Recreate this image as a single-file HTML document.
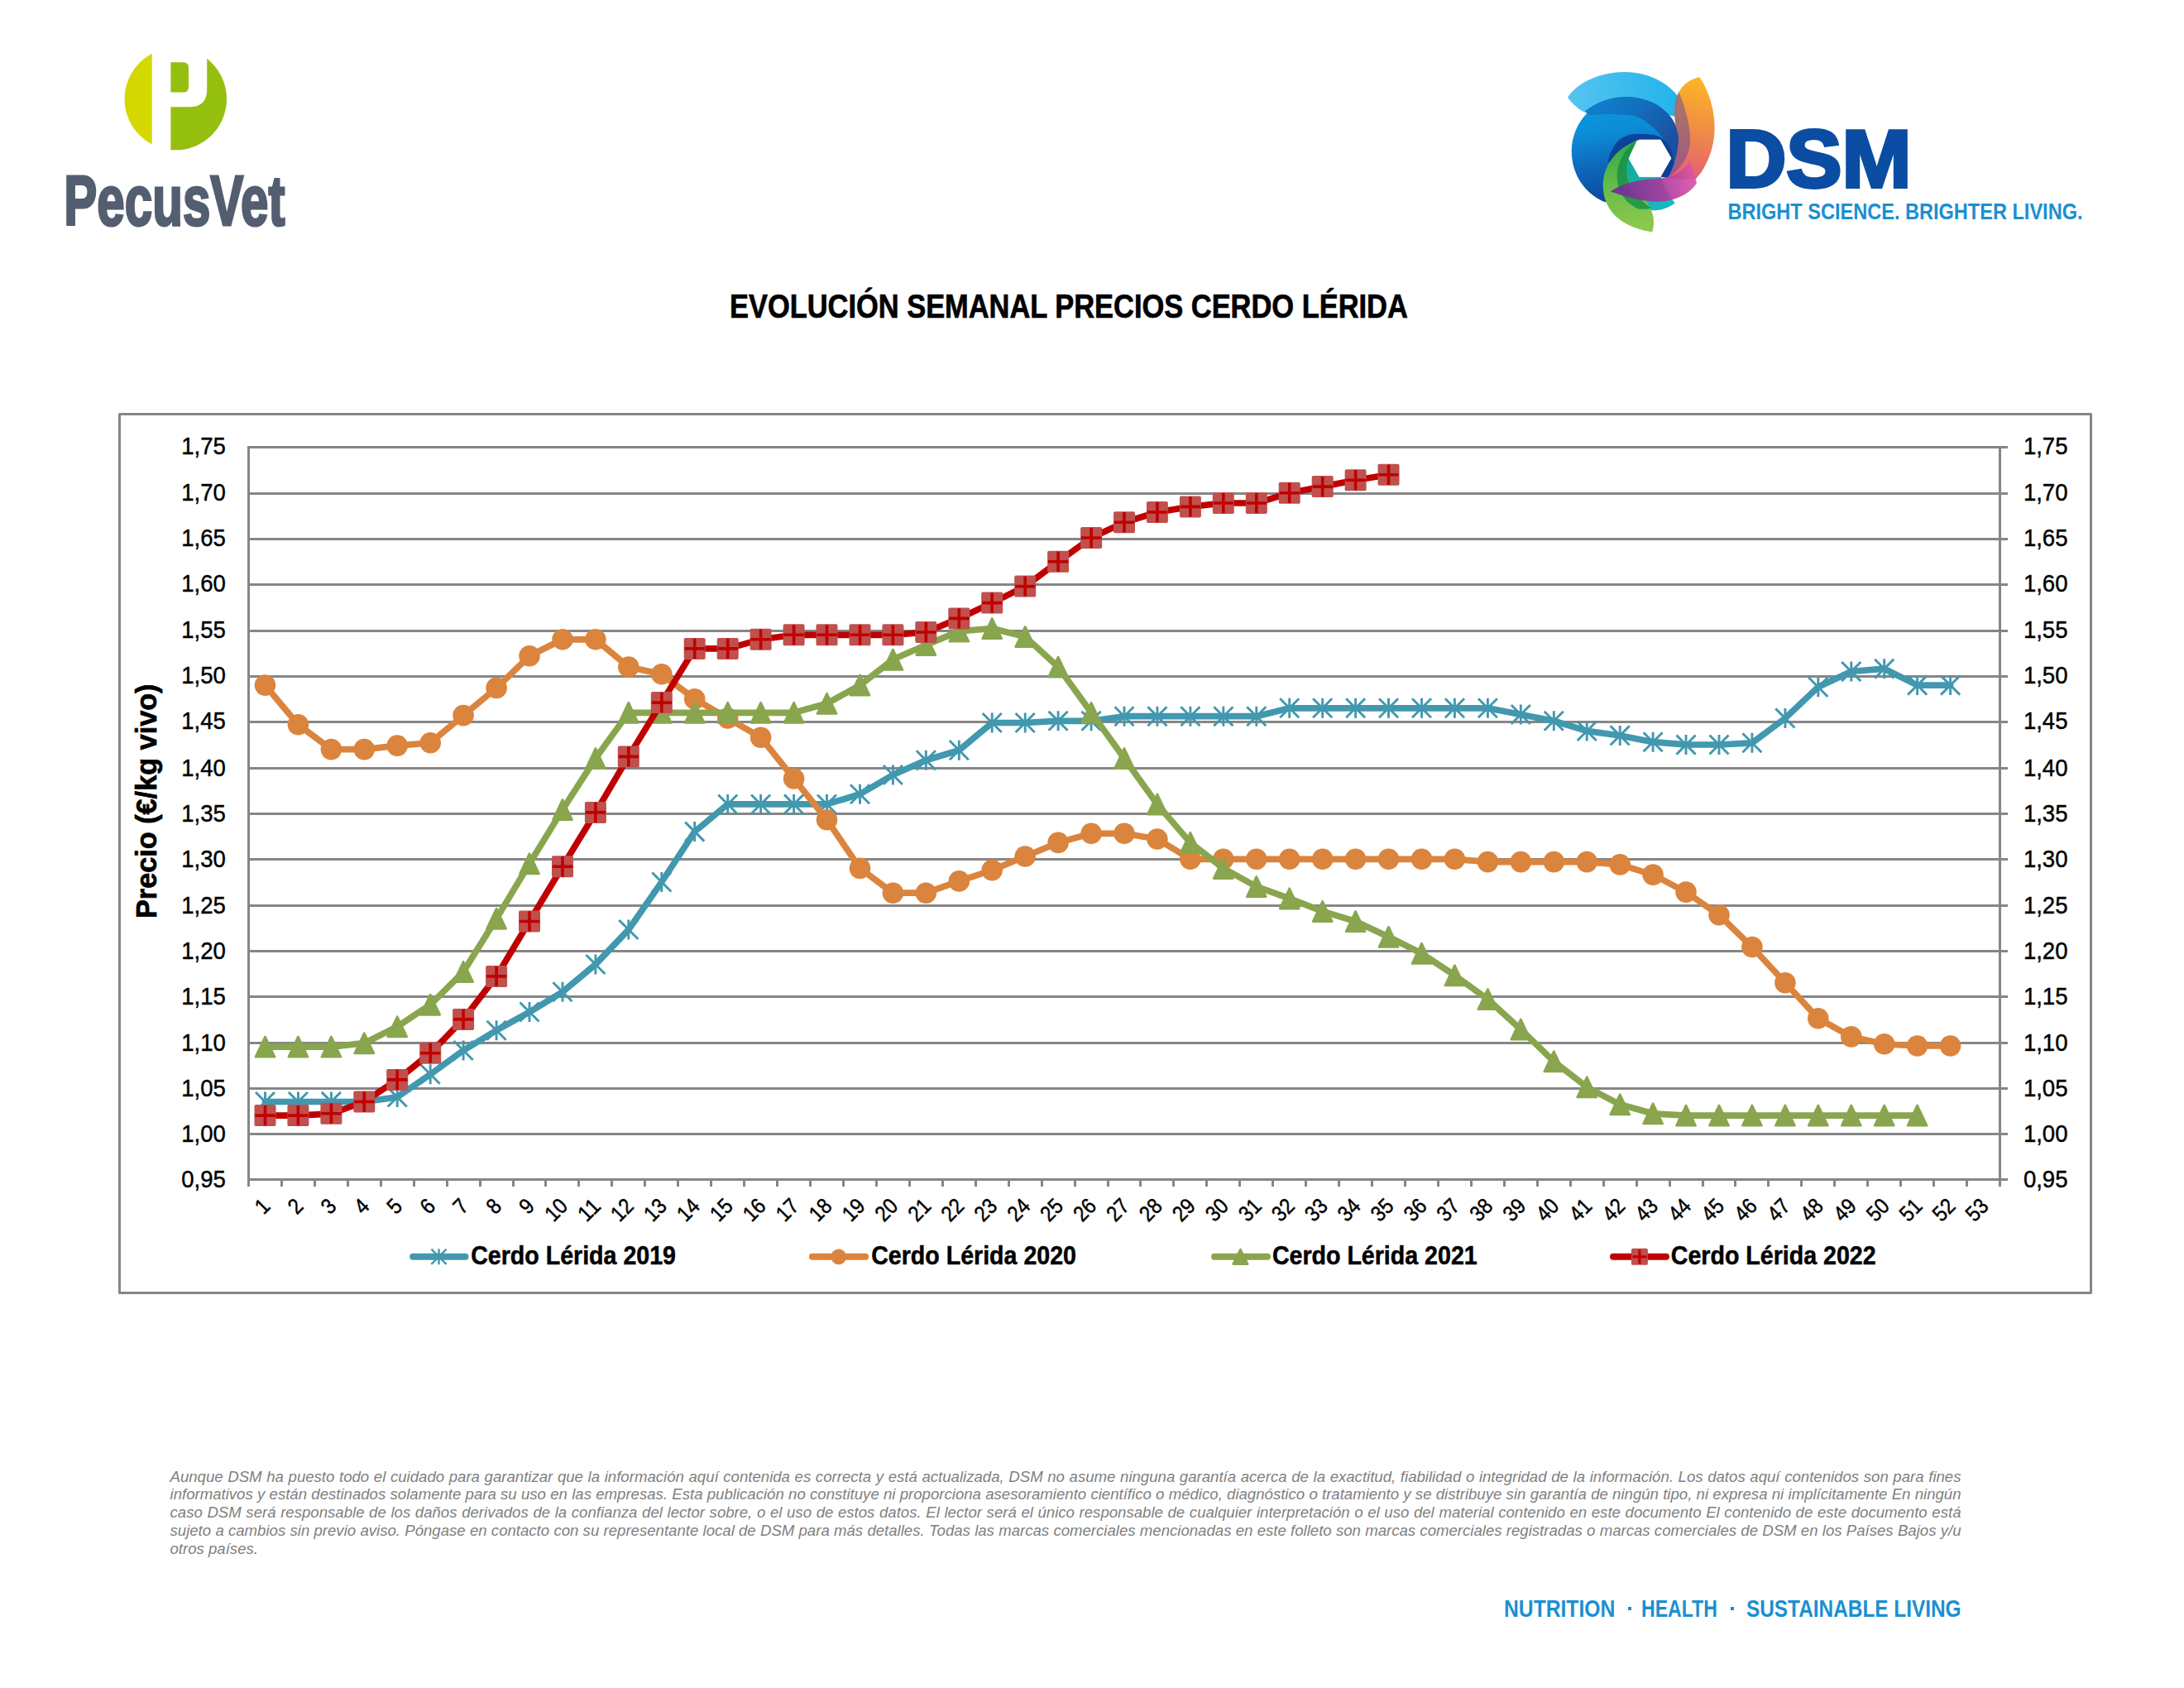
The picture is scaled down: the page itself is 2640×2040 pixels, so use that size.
<!DOCTYPE html>
<html lang="es">
<head>
<meta charset="utf-8">
<title>Evolución semanal precios cerdo Lérida</title>
<style>
html,body{margin:0;padding:0;background:#fff;}
body{width:2640px;height:2040px;position:relative;overflow:hidden;font-family:"Liberation Sans",sans-serif;}
svg{position:absolute;left:0;top:0;}
.title{position:absolute;left:882.2px;top:345.5px;width:820px;height:48px;line-height:48px;font-weight:bold;font-size:41px;color:#000;white-space:nowrap;-webkit-text-stroke:0.7px #000;}
.title span{display:inline-block;transform-origin:0 50%;transform:scaleX(0.8395);}
.disc{position:absolute;left:205.5px;top:1773.6px;width:2165px;color:#7f7f7f;font-style:italic;font-size:18.6px;line-height:21.87px;}
.dl{white-space:nowrap;text-align:justify;text-align-last:justify;height:21.87px;}
.dl.last{text-align:left;text-align-last:left;}
.foot{position:absolute;left:0;top:1926.5px;width:2640px;height:34px;line-height:34px;font-size:29px;font-weight:bold;color:#1b8fd2;white-space:nowrap;}
.foot span{position:absolute;top:0;display:inline-block;transform-origin:0 50%;}
.foot i{position:absolute;top:15.3px;width:4.2px;height:4.2px;background:#1b8fd2;}
</style>
</head>
<body>
<svg width="2640" height="2040" viewBox="0 0 2640 2040">
<!-- PecusVet logo -->
<g>
<clipPath id="pcirc"><circle cx="212.25" cy="119.6" r="61.75"/></clipPath>
<g clip-path="url(#pcirc)">
<rect x="140" y="50" width="43.7" height="140" fill="#d5d800"/>
<path d="M206.4 50H250.2V108Q250.2 129.3 229 129.3H206.4V200H290V40H206.4Z M206.4 129.3V200H290V40H250.2V108Q250.2 129.3 229 129.3Z" fill="#95bf0f"/>
<path d="M206.4 75.3H221.5Q228 75.3 228 82V105Q228 111.6 221.5 111.6H206.4Z" fill="#95bf0f"/>
</g>
<text x="77.3" y="272" font-family="'Liberation Sans', sans-serif" font-weight="bold" font-size="86" fill="#535f70" stroke="#535f70" stroke-width="3" textLength="267.2" lengthAdjust="spacingAndGlyphs">PecusVet</text>
</g>
<!-- DSM logo -->
<defs>
<linearGradient id="gLB" x1="0" y1="0" x2="1" y2="0"><stop offset="0" stop-color="#56c4f1"/><stop offset="1" stop-color="#22b4ea"/></linearGradient>
<linearGradient id="gB" x1="0.35" y1="0.1" x2="0.5" y2="1"><stop offset="0" stop-color="#0b96df"/><stop offset="0.25" stop-color="#0c8bd6"/><stop offset="0.6" stop-color="#0d65b8"/><stop offset="1" stop-color="#0a4496"/></linearGradient>
<linearGradient id="gB2" x1="0" y1="0" x2="1" y2="0.6"><stop offset="0" stop-color="#0d84cf"/><stop offset="0.5" stop-color="#126fbd"/><stop offset="1" stop-color="#1b4fa1"/></linearGradient>
<linearGradient id="gO" x1="0.5" y1="0" x2="0.4" y2="1"><stop offset="0" stop-color="#fdb014"/><stop offset="0.5" stop-color="#ee8338"/><stop offset="1" stop-color="#e2506c"/></linearGradient>
<linearGradient id="gM" x1="0" y1="0.5" x2="1" y2="0.4"><stop offset="0" stop-color="#6a2c93"/><stop offset="0.55" stop-color="#a63a9c"/><stop offset="1" stop-color="#dd55a6"/></linearGradient>
<linearGradient id="gG" x1="0.5" y1="0" x2="0.6" y2="1"><stop offset="0" stop-color="#37a84a"/><stop offset="0.5" stop-color="#6bbd4a"/><stop offset="1" stop-color="#8fc94e"/></linearGradient>
<linearGradient id="gT" x1="0" y1="0" x2="1" y2="1"><stop offset="0" stop-color="#12a88e"/><stop offset="1" stop-color="#1ab9c9"/></linearGradient>
</defs>
<g transform="translate(1880 70) scale(0.13622)">
<!-- light blue crescent -->
<path d="M110 350C200 215 400 125 620 125C830 125 1010 230 1092 345L1062 520L600 430L250 478C190 440 140 395 110 350Z" fill="url(#gLB)"/>
<!-- big blue swirl -->
<path d="M430 1275C260 1200 145 1030 145 830C145 562 360 345 628 345C880 345 1075 500 1095 700C1105 830 1070 960 1000 1062L935 1055L1030 890L935 725L745 725C640 760 560 880 545 1000C530 1120 560 1230 600 1300Z" fill="url(#gB)"/>
<!-- outer blade -->
<path d="M259 478C350 400 480 345 628 345C880 345 1075 500 1095 700C1100 780 1085 850 1050 905C1045 860 1020 800 980 747C940 690 900 640 846 599C790 545 720 510 643 505C520 495 400 500 306 505Z" fill="url(#gB2)"/>
<!-- darker inner band -->
<path d="M468 916C490 820 530 760 576 720C630 685 690 672 744 673C810 672 870 680 913 693C980 730 1020 780 1034 835C1050 880 1050 920 1048 950C1035 990 1020 1030 1000 1062L935 1055L1030 890L935 725L745 725C640 760 560 860 545 1000Z" fill="#0a3a92" opacity="0.85"/>
<!-- teal -->
<path d="M700 770C560 850 520 1060 620 1225C710 1350 900 1405 1062 1290C1000 1200 940 1100 940 1055L745 1055L650 890Z" fill="url(#gT)"/>
<!-- hexagon hole -->
<path d="M650 890L745 725L935 725L1030 890L935 1055L745 1055Z" fill="#fff"/>
<!-- green petal -->
<path d="M722 738C560 790 440 930 425 1100C412 1300 520 1490 860 1545C905 1400 830 1280 740 1200C640 1110 600 1000 650 890C670 840 695 790 722 738Z" fill="url(#gG)"/>
<!-- darker green inner band -->
<path d="M722 738C620 800 550 920 548 1050C548 1180 620 1290 740 1340C790 1345 830 1340 850 1330C790 1290 740 1240 700 1180C630 1090 615 980 650 890Z" fill="#129049" opacity="0.8"/>
<!-- orange petal -->
<path d="M1280 170C1390 330 1440 560 1400 760C1370 900 1310 1010 1245 1075L1100 1080L1000 1062C1060 960 1090 850 1095 700C1050 560 1040 400 1110 280C1150 220 1210 185 1280 170Z" fill="url(#gO)" opacity="0.93"/>
<!-- orange overlap tint -->
<path d="M1095 300C1040 420 1050 580 1095 700C1100 800 1075 930 1000 1062C1080 1010 1150 930 1185 820C1215 700 1180 560 1150 450C1130 380 1110 340 1095 300Z" fill="#5d4a9a" opacity="0.5"/>
<!-- magenta petal -->
<path d="M490 1185C600 1110 750 1078 900 1070C1050 1060 1150 1000 1190 920C1215 980 1240 1050 1255 1110C1180 1230 1000 1295 830 1270C700 1255 580 1215 490 1185Z" fill="url(#gM)" opacity="0.92"/>
</g>

<g>
<text x="2086.5" y="225.8" font-family="'Liberation Sans', sans-serif" font-weight="bold" font-size="99" fill="#0a4da2" stroke="#0a4da2" stroke-width="4" stroke-linejoin="miter" textLength="224" lengthAdjust="spacingAndGlyphs">DSM</text>
<text x="2088.5" y="264.5" font-family="'Liberation Sans', sans-serif" font-weight="bold" font-size="28.3" fill="#1b8fd2" textLength="429" lengthAdjust="spacingAndGlyphs">BRIGHT SCIENCE. BRIGHTER LIVING.</text>
</g>

<rect x="144.5" y="500.5" width="2383" height="1062" fill="#fff" stroke="#868686" stroke-width="3" stroke-linejoin="round"/>
<path d="M300.5 1425.5H2427M300.5 1370.5H2427M300.5 1315.5H2427M300.5 1260.5H2427M300.5 1204.5H2427M300.5 1149.5H2427M300.5 1094.5H2427M300.5 1038.5H2427M300.5 983.5H2427M300.5 928.5H2427M300.5 872.5H2427M300.5 817.5H2427M300.5 762.5H2427M300.5 706.5H2427M300.5 651.5H2427M300.5 596.5H2427M300.5 540.5H2427M300.5 539V1434M2417.5 539V1434M340.5 1425.5V1434M380.5 1425.5V1434M420.5 1425.5V1434M460.5 1425.5V1434M500.5 1425.5V1434M540.5 1425.5V1434M580.5 1425.5V1434M620.5 1425.5V1434M659.5 1425.5V1434M699.5 1425.5V1434M739.5 1425.5V1434M779.5 1425.5V1434M819.5 1425.5V1434M859.5 1425.5V1434M899.5 1425.5V1434M939.5 1425.5V1434M979.5 1425.5V1434M1019.5 1425.5V1434M1059.5 1425.5V1434M1099.5 1425.5V1434M1139.5 1425.5V1434M1179.5 1425.5V1434M1219.5 1425.5V1434M1259.5 1425.5V1434M1299.5 1425.5V1434M1339.5 1425.5V1434M1378.5 1425.5V1434M1418.5 1425.5V1434M1458.5 1425.5V1434M1498.5 1425.5V1434M1538.5 1425.5V1434M1578.5 1425.5V1434M1618.5 1425.5V1434M1658.5 1425.5V1434M1698.5 1425.5V1434M1738.5 1425.5V1434M1778.5 1425.5V1434M1818.5 1425.5V1434M1858.5 1425.5V1434M1898.5 1425.5V1434M1938.5 1425.5V1434M1978.5 1425.5V1434M2018.5 1425.5V1434M2058.5 1425.5V1434M2097.5 1425.5V1434M2137.5 1425.5V1434M2177.5 1425.5V1434M2217.5 1425.5V1434M2257.5 1425.5V1434M2297.5 1425.5V1434M2337.5 1425.5V1434M2377.5 1425.5V1434" stroke="#868686" stroke-width="3" fill="none"/>
<polyline points="320.5,1331.5 360.4,1331.5 400.4,1331.5 440.3,1331.5 480.2,1325.9 520.2,1298.3 560.1,1269.5 600.1,1245.2 640,1223.1 680,1198.7 719.9,1165.5 759.8,1123.5 799.8,1066 839.7,1005.1 879.7,971.9 919.6,971.9 959.6,971.9 999.5,971.9 1039.5,959.8 1079.4,936.5 1119.3,918.8 1159.3,906.7 1199.2,873.5 1239.2,873.5 1279.1,871.3 1319.1,871.3 1359,865.7 1398.9,865.7 1438.9,865.7 1478.8,865.7 1518.8,865.7 1558.7,855.8 1598.7,855.8 1638.6,855.8 1678.5,855.8 1718.5,855.8 1758.4,855.8 1798.4,855.8 1838.3,863.5 1878.3,871.3 1918.2,883.4 1958.2,889 1998.1,896.7 2038,900 2078,900 2117.9,897.8 2157.9,868 2197.8,830.3 2237.8,811.5 2277.7,808.2 2317.6,828.1 2357.6,828.1" fill="none" stroke="#4198AF" stroke-width="7.7" stroke-linejoin="round" stroke-linecap="round"/>
<path d="M320.5 1319.5V1343.5M309 1319.9L332 1343M332 1319.9L309 1343" stroke="#4198AF" stroke-width="2.9" fill="none"/><path d="M360.4 1319.5V1343.5M348.9 1319.9L371.9 1343M371.9 1319.9L348.9 1343" stroke="#4198AF" stroke-width="2.9" fill="none"/><path d="M400.4 1319.5V1343.5M388.8 1319.9L411.9 1343M411.9 1319.9L388.8 1343" stroke="#4198AF" stroke-width="2.9" fill="none"/><path d="M440.3 1319.5V1343.5M428.8 1319.9L451.8 1343M451.8 1319.9L428.8 1343" stroke="#4198AF" stroke-width="2.9" fill="none"/><path d="M480.2 1313.9V1337.9M468.7 1314.4L491.8 1337.5M491.8 1314.4L468.7 1337.5" stroke="#4198AF" stroke-width="2.9" fill="none"/><path d="M520.2 1286.3V1310.3M508.7 1286.8L531.7 1309.8M531.7 1286.8L508.7 1309.8" stroke="#4198AF" stroke-width="2.9" fill="none"/><path d="M560.1 1257.5V1281.5M548.6 1258L571.7 1281M571.7 1258L548.6 1281" stroke="#4198AF" stroke-width="2.9" fill="none"/><path d="M600.1 1233.2V1257.2M588.6 1233.7L611.6 1256.7M611.6 1233.7L588.6 1256.7" stroke="#4198AF" stroke-width="2.9" fill="none"/><path d="M640 1211.1V1235.1M628.5 1211.5L651.5 1234.6M651.5 1211.5L628.5 1234.6" stroke="#4198AF" stroke-width="2.9" fill="none"/><path d="M680 1186.7V1210.7M668.4 1187.2L691.5 1210.2M691.5 1187.2L668.4 1210.2" stroke="#4198AF" stroke-width="2.9" fill="none"/><path d="M719.9 1153.5V1177.5M708.4 1154L731.4 1177.1M731.4 1154L708.4 1177.1" stroke="#4198AF" stroke-width="2.9" fill="none"/><path d="M759.8 1111.5V1135.5M748.3 1112L771.4 1135M771.4 1112L748.3 1135" stroke="#4198AF" stroke-width="2.9" fill="none"/><path d="M799.8 1054V1078M788.3 1054.4L811.3 1077.5M811.3 1054.4L788.3 1077.5" stroke="#4198AF" stroke-width="2.9" fill="none"/><path d="M839.7 993.1V1017.1M828.2 993.6L851.3 1016.6M851.3 993.6L828.2 1016.6" stroke="#4198AF" stroke-width="2.9" fill="none"/><path d="M879.7 959.9V983.9M868.2 960.4L891.2 983.5M891.2 960.4L868.2 983.5" stroke="#4198AF" stroke-width="2.9" fill="none"/><path d="M919.6 959.9V983.9M908.1 960.4L931.1 983.5M931.1 960.4L908.1 983.5" stroke="#4198AF" stroke-width="2.9" fill="none"/><path d="M959.6 959.9V983.9M948 960.4L971.1 983.5M971.1 960.4L948 983.5" stroke="#4198AF" stroke-width="2.9" fill="none"/><path d="M999.5 959.9V983.9M988 960.4L1011 983.5M1011 960.4L988 983.5" stroke="#4198AF" stroke-width="2.9" fill="none"/><path d="M1039.5 947.8V971.8M1027.9 948.2L1051 971.3M1051 948.2L1027.9 971.3" stroke="#4198AF" stroke-width="2.9" fill="none"/><path d="M1079.4 924.5V948.5M1067.9 925L1090.9 948.1M1090.9 925L1067.9 948.1" stroke="#4198AF" stroke-width="2.9" fill="none"/><path d="M1119.3 906.8V930.8M1107.8 907.3L1130.9 930.4M1130.9 907.3L1107.8 930.4" stroke="#4198AF" stroke-width="2.9" fill="none"/><path d="M1159.3 894.7V918.7M1147.8 895.1L1170.8 918.2M1170.8 895.1L1147.8 918.2" stroke="#4198AF" stroke-width="2.9" fill="none"/><path d="M1199.2 861.5V885.5M1187.7 862L1210.7 885M1210.7 862L1187.7 885" stroke="#4198AF" stroke-width="2.9" fill="none"/><path d="M1239.2 861.5V885.5M1227.6 862L1250.7 885M1250.7 862L1227.6 885" stroke="#4198AF" stroke-width="2.9" fill="none"/><path d="M1279.1 859.3V883.3M1267.6 859.7L1290.6 882.8M1290.6 859.7L1267.6 882.8" stroke="#4198AF" stroke-width="2.9" fill="none"/><path d="M1319.1 859.3V883.3M1307.5 859.7L1330.6 882.8M1330.6 859.7L1307.5 882.8" stroke="#4198AF" stroke-width="2.9" fill="none"/><path d="M1359 853.7V877.7M1347.5 854.2L1370.5 877.3M1370.5 854.2L1347.5 877.3" stroke="#4198AF" stroke-width="2.9" fill="none"/><path d="M1398.9 853.7V877.7M1387.4 854.2L1410.5 877.3M1410.5 854.2L1387.4 877.3" stroke="#4198AF" stroke-width="2.9" fill="none"/><path d="M1438.9 853.7V877.7M1427.4 854.2L1450.4 877.3M1450.4 854.2L1427.4 877.3" stroke="#4198AF" stroke-width="2.9" fill="none"/><path d="M1478.8 853.7V877.7M1467.3 854.2L1490.4 877.3M1490.4 854.2L1467.3 877.3" stroke="#4198AF" stroke-width="2.9" fill="none"/><path d="M1518.8 853.7V877.7M1507.3 854.2L1530.3 877.3M1530.3 854.2L1507.3 877.3" stroke="#4198AF" stroke-width="2.9" fill="none"/><path d="M1558.7 843.8V867.8M1547.2 844.3L1570.2 867.3M1570.2 844.3L1547.2 867.3" stroke="#4198AF" stroke-width="2.9" fill="none"/><path d="M1598.7 843.8V867.8M1587.1 844.3L1610.2 867.3M1610.2 844.3L1587.1 867.3" stroke="#4198AF" stroke-width="2.9" fill="none"/><path d="M1638.6 843.8V867.8M1627.1 844.3L1650.1 867.3M1650.1 844.3L1627.1 867.3" stroke="#4198AF" stroke-width="2.9" fill="none"/><path d="M1678.5 843.8V867.8M1667 844.3L1690.1 867.3M1690.1 844.3L1667 867.3" stroke="#4198AF" stroke-width="2.9" fill="none"/><path d="M1718.5 843.8V867.8M1707 844.3L1730 867.3M1730 844.3L1707 867.3" stroke="#4198AF" stroke-width="2.9" fill="none"/><path d="M1758.4 843.8V867.8M1746.9 844.3L1770 867.3M1770 844.3L1746.9 867.3" stroke="#4198AF" stroke-width="2.9" fill="none"/><path d="M1798.4 843.8V867.8M1786.9 844.3L1809.9 867.3M1809.9 844.3L1786.9 867.3" stroke="#4198AF" stroke-width="2.9" fill="none"/><path d="M1838.3 851.5V875.5M1826.8 852L1849.8 875M1849.8 852L1826.8 875" stroke="#4198AF" stroke-width="2.9" fill="none"/><path d="M1878.3 859.3V883.3M1866.7 859.7L1889.8 882.8M1889.8 859.7L1866.7 882.8" stroke="#4198AF" stroke-width="2.9" fill="none"/><path d="M1918.2 871.4V895.4M1906.7 871.9L1929.7 895M1929.7 871.9L1906.7 895" stroke="#4198AF" stroke-width="2.9" fill="none"/><path d="M1958.2 877V901M1946.6 877.4L1969.7 900.5M1969.7 877.4L1946.6 900.5" stroke="#4198AF" stroke-width="2.9" fill="none"/><path d="M1998.1 884.7V908.7M1986.6 885.2L2009.6 908.2M2009.6 885.2L1986.6 908.2" stroke="#4198AF" stroke-width="2.9" fill="none"/><path d="M2038 888V912M2026.5 888.5L2049.6 911.6M2049.6 888.5L2026.5 911.6" stroke="#4198AF" stroke-width="2.9" fill="none"/><path d="M2078 888V912M2066.5 888.5L2089.5 911.6M2089.5 888.5L2066.5 911.6" stroke="#4198AF" stroke-width="2.9" fill="none"/><path d="M2117.9 885.8V909.8M2106.4 886.3L2129.4 909.3M2129.4 886.3L2106.4 909.3" stroke="#4198AF" stroke-width="2.9" fill="none"/><path d="M2157.9 856V880M2146.3 856.4L2169.4 879.5M2169.4 856.4L2146.3 879.5" stroke="#4198AF" stroke-width="2.9" fill="none"/><path d="M2197.8 818.3V842.3M2186.3 818.8L2209.3 841.9M2209.3 818.8L2186.3 841.9" stroke="#4198AF" stroke-width="2.9" fill="none"/><path d="M2237.8 799.5V823.5M2226.2 800L2249.3 823.1M2249.3 800L2226.2 823.1" stroke="#4198AF" stroke-width="2.9" fill="none"/><path d="M2277.7 796.2V820.2M2266.2 796.7L2289.2 819.7M2289.2 796.7L2266.2 819.7" stroke="#4198AF" stroke-width="2.9" fill="none"/><path d="M2317.6 816.1V840.1M2306.1 816.6L2329.2 839.6M2329.2 816.6L2306.1 839.6" stroke="#4198AF" stroke-width="2.9" fill="none"/><path d="M2357.6 816.1V840.1M2346.1 816.6L2369.1 839.6M2369.1 816.6L2346.1 839.6" stroke="#4198AF" stroke-width="2.9" fill="none"/>
<polyline points="320.5,828.1 360.4,875.7 400.4,905.6 440.3,905.6 480.2,901.1 520.2,897.8 560.1,864.6 600.1,831.4 640,792.7 680,772.8 719.9,772.8 759.8,806 799.8,814.8 839.7,844.7 879.7,868 919.6,891.2 959.6,941 999.5,990.7 1039.5,1049.4 1079.4,1079.2 1119.3,1079.2 1159.3,1064.9 1199.2,1051.6 1239.2,1035 1279.1,1018.4 1319.1,1007.3 1359,1007.3 1398.9,1014 1438.9,1038.3 1478.8,1038.3 1518.8,1038.3 1558.7,1038.3 1598.7,1038.3 1638.6,1038.3 1678.5,1038.3 1718.5,1038.3 1758.4,1038.3 1798.4,1041.6 1838.3,1041.6 1878.3,1041.6 1918.2,1041.6 1958.2,1044.9 1998.1,1057.1 2038,1078.1 2078,1105.8 2117.9,1144.5 2157.9,1187.7 2197.8,1230.8 2237.8,1252.9 2277.7,1261.8 2317.6,1264 2357.6,1264" fill="none" stroke="#DB843D" stroke-width="7.7" stroke-linejoin="round" stroke-linecap="round"/>
<circle cx="320.5" cy="828.1" r="12.8" fill="#DB843D"/><circle cx="360.4" cy="875.7" r="12.8" fill="#DB843D"/><circle cx="400.4" cy="905.6" r="12.8" fill="#DB843D"/><circle cx="440.3" cy="905.6" r="12.8" fill="#DB843D"/><circle cx="480.2" cy="901.1" r="12.8" fill="#DB843D"/><circle cx="520.2" cy="897.8" r="12.8" fill="#DB843D"/><circle cx="560.1" cy="864.6" r="12.8" fill="#DB843D"/><circle cx="600.1" cy="831.4" r="12.8" fill="#DB843D"/><circle cx="640" cy="792.7" r="12.8" fill="#DB843D"/><circle cx="680" cy="772.8" r="12.8" fill="#DB843D"/><circle cx="719.9" cy="772.8" r="12.8" fill="#DB843D"/><circle cx="759.8" cy="806" r="12.8" fill="#DB843D"/><circle cx="799.8" cy="814.8" r="12.8" fill="#DB843D"/><circle cx="839.7" cy="844.7" r="12.8" fill="#DB843D"/><circle cx="879.7" cy="868" r="12.8" fill="#DB843D"/><circle cx="919.6" cy="891.2" r="12.8" fill="#DB843D"/><circle cx="959.6" cy="941" r="12.8" fill="#DB843D"/><circle cx="999.5" cy="990.7" r="12.8" fill="#DB843D"/><circle cx="1039.5" cy="1049.4" r="12.8" fill="#DB843D"/><circle cx="1079.4" cy="1079.2" r="12.8" fill="#DB843D"/><circle cx="1119.3" cy="1079.2" r="12.8" fill="#DB843D"/><circle cx="1159.3" cy="1064.9" r="12.8" fill="#DB843D"/><circle cx="1199.2" cy="1051.6" r="12.8" fill="#DB843D"/><circle cx="1239.2" cy="1035" r="12.8" fill="#DB843D"/><circle cx="1279.1" cy="1018.4" r="12.8" fill="#DB843D"/><circle cx="1319.1" cy="1007.3" r="12.8" fill="#DB843D"/><circle cx="1359" cy="1007.3" r="12.8" fill="#DB843D"/><circle cx="1398.9" cy="1014" r="12.8" fill="#DB843D"/><circle cx="1438.9" cy="1038.3" r="12.8" fill="#DB843D"/><circle cx="1478.8" cy="1038.3" r="12.8" fill="#DB843D"/><circle cx="1518.8" cy="1038.3" r="12.8" fill="#DB843D"/><circle cx="1558.7" cy="1038.3" r="12.8" fill="#DB843D"/><circle cx="1598.7" cy="1038.3" r="12.8" fill="#DB843D"/><circle cx="1638.6" cy="1038.3" r="12.8" fill="#DB843D"/><circle cx="1678.5" cy="1038.3" r="12.8" fill="#DB843D"/><circle cx="1718.5" cy="1038.3" r="12.8" fill="#DB843D"/><circle cx="1758.4" cy="1038.3" r="12.8" fill="#DB843D"/><circle cx="1798.4" cy="1041.6" r="12.8" fill="#DB843D"/><circle cx="1838.3" cy="1041.6" r="12.8" fill="#DB843D"/><circle cx="1878.3" cy="1041.6" r="12.8" fill="#DB843D"/><circle cx="1918.2" cy="1041.6" r="12.8" fill="#DB843D"/><circle cx="1958.2" cy="1044.9" r="12.8" fill="#DB843D"/><circle cx="1998.1" cy="1057.1" r="12.8" fill="#DB843D"/><circle cx="2038" cy="1078.1" r="12.8" fill="#DB843D"/><circle cx="2078" cy="1105.8" r="12.8" fill="#DB843D"/><circle cx="2117.9" cy="1144.5" r="12.8" fill="#DB843D"/><circle cx="2157.9" cy="1187.7" r="12.8" fill="#DB843D"/><circle cx="2197.8" cy="1230.8" r="12.8" fill="#DB843D"/><circle cx="2237.8" cy="1252.9" r="12.8" fill="#DB843D"/><circle cx="2277.7" cy="1261.8" r="12.8" fill="#DB843D"/><circle cx="2317.6" cy="1264" r="12.8" fill="#DB843D"/><circle cx="2357.6" cy="1264" r="12.8" fill="#DB843D"/>
<polyline points="320.5,1265.1 360.4,1265.1 400.4,1265.1 440.3,1260.7 480.2,1240.8 520.2,1214.2 560.1,1174.4 600.1,1110.2 640,1043.8 680,978.6 719.9,916.6 759.8,861.3 799.8,861.3 839.7,861.3 879.7,861.3 919.6,861.3 959.6,861.3 999.5,850.2 1039.5,828.1 1079.4,797.1 1119.3,779.4 1159.3,762.9 1199.2,759.5 1239.2,769.5 1279.1,806 1319.1,861.3 1359,916.6 1398.9,971.9 1438.9,1018.4 1478.8,1049.4 1518.8,1071.5 1558.7,1085.9 1598.7,1101.4 1638.6,1113.5 1678.5,1132.3 1718.5,1152.3 1758.4,1178.8 1798.4,1207.6 1838.3,1244.1 1878.3,1282.8 1918.2,1313.8 1958.2,1334.8 1998.1,1345.8 2038,1348.1 2078,1348.1 2117.9,1348.1 2157.9,1348.1 2197.8,1348.1 2237.8,1348.1 2277.7,1348.1 2317.6,1348.1" fill="none" stroke="#89A54E" stroke-width="7.7" stroke-linejoin="round" stroke-linecap="round"/>
<path d="M320.5 1252.9L332.1 1277.3H308.9Z" fill="#89A54E" stroke="#89A54E" stroke-width="2.6" stroke-linejoin="round"/><path d="M360.4 1252.9L372 1277.3H348.8Z" fill="#89A54E" stroke="#89A54E" stroke-width="2.6" stroke-linejoin="round"/><path d="M400.4 1252.9L412 1277.3H388.8Z" fill="#89A54E" stroke="#89A54E" stroke-width="2.6" stroke-linejoin="round"/><path d="M440.3 1248.5L451.9 1272.9H428.7Z" fill="#89A54E" stroke="#89A54E" stroke-width="2.6" stroke-linejoin="round"/><path d="M480.2 1228.6L491.8 1253H468.6Z" fill="#89A54E" stroke="#89A54E" stroke-width="2.6" stroke-linejoin="round"/><path d="M520.2 1202L531.8 1226.4H508.6Z" fill="#89A54E" stroke="#89A54E" stroke-width="2.6" stroke-linejoin="round"/><path d="M560.1 1162.2L571.7 1186.6H548.5Z" fill="#89A54E" stroke="#89A54E" stroke-width="2.6" stroke-linejoin="round"/><path d="M600.1 1098L611.7 1122.4H588.5Z" fill="#89A54E" stroke="#89A54E" stroke-width="2.6" stroke-linejoin="round"/><path d="M640 1031.6L651.6 1056H628.4Z" fill="#89A54E" stroke="#89A54E" stroke-width="2.6" stroke-linejoin="round"/><path d="M680 966.4L691.6 990.8H668.4Z" fill="#89A54E" stroke="#89A54E" stroke-width="2.6" stroke-linejoin="round"/><path d="M719.9 904.4L731.5 928.8H708.3Z" fill="#89A54E" stroke="#89A54E" stroke-width="2.6" stroke-linejoin="round"/><path d="M759.8 849.1L771.4 873.5H748.2Z" fill="#89A54E" stroke="#89A54E" stroke-width="2.6" stroke-linejoin="round"/><path d="M799.8 849.1L811.4 873.5H788.2Z" fill="#89A54E" stroke="#89A54E" stroke-width="2.6" stroke-linejoin="round"/><path d="M839.7 849.1L851.3 873.5H828.1Z" fill="#89A54E" stroke="#89A54E" stroke-width="2.6" stroke-linejoin="round"/><path d="M879.7 849.1L891.3 873.5H868.1Z" fill="#89A54E" stroke="#89A54E" stroke-width="2.6" stroke-linejoin="round"/><path d="M919.6 849.1L931.2 873.5H908Z" fill="#89A54E" stroke="#89A54E" stroke-width="2.6" stroke-linejoin="round"/><path d="M959.6 849.1L971.2 873.5H948Z" fill="#89A54E" stroke="#89A54E" stroke-width="2.6" stroke-linejoin="round"/><path d="M999.5 838L1011.1 862.5H987.9Z" fill="#89A54E" stroke="#89A54E" stroke-width="2.6" stroke-linejoin="round"/><path d="M1039.5 815.9L1051.1 840.3H1027.9Z" fill="#89A54E" stroke="#89A54E" stroke-width="2.6" stroke-linejoin="round"/><path d="M1079.4 784.9L1091 809.4H1067.8Z" fill="#89A54E" stroke="#89A54E" stroke-width="2.6" stroke-linejoin="round"/><path d="M1119.3 767.2L1130.9 791.6H1107.7Z" fill="#89A54E" stroke="#89A54E" stroke-width="2.6" stroke-linejoin="round"/><path d="M1159.3 750.7L1170.9 775.1H1147.7Z" fill="#89A54E" stroke="#89A54E" stroke-width="2.6" stroke-linejoin="round"/><path d="M1199.2 747.3L1210.8 771.7H1187.6Z" fill="#89A54E" stroke="#89A54E" stroke-width="2.6" stroke-linejoin="round"/><path d="M1239.2 757.3L1250.8 781.7H1227.6Z" fill="#89A54E" stroke="#89A54E" stroke-width="2.6" stroke-linejoin="round"/><path d="M1279.1 793.8L1290.7 818.2H1267.5Z" fill="#89A54E" stroke="#89A54E" stroke-width="2.6" stroke-linejoin="round"/><path d="M1319.1 849.1L1330.7 873.5H1307.5Z" fill="#89A54E" stroke="#89A54E" stroke-width="2.6" stroke-linejoin="round"/><path d="M1359 904.4L1370.6 928.8H1347.4Z" fill="#89A54E" stroke="#89A54E" stroke-width="2.6" stroke-linejoin="round"/><path d="M1398.9 959.7L1410.5 984.1H1387.3Z" fill="#89A54E" stroke="#89A54E" stroke-width="2.6" stroke-linejoin="round"/><path d="M1438.9 1006.2L1450.5 1030.6H1427.3Z" fill="#89A54E" stroke="#89A54E" stroke-width="2.6" stroke-linejoin="round"/><path d="M1478.8 1037.2L1490.4 1061.6H1467.2Z" fill="#89A54E" stroke="#89A54E" stroke-width="2.6" stroke-linejoin="round"/><path d="M1518.8 1059.3L1530.4 1083.7H1507.2Z" fill="#89A54E" stroke="#89A54E" stroke-width="2.6" stroke-linejoin="round"/><path d="M1558.7 1073.7L1570.3 1098.1H1547.1Z" fill="#89A54E" stroke="#89A54E" stroke-width="2.6" stroke-linejoin="round"/><path d="M1598.7 1089.2L1610.3 1113.6H1587.1Z" fill="#89A54E" stroke="#89A54E" stroke-width="2.6" stroke-linejoin="round"/><path d="M1638.6 1101.3L1650.2 1125.7H1627Z" fill="#89A54E" stroke="#89A54E" stroke-width="2.6" stroke-linejoin="round"/><path d="M1678.5 1120.1L1690.1 1144.5H1666.9Z" fill="#89A54E" stroke="#89A54E" stroke-width="2.6" stroke-linejoin="round"/><path d="M1718.5 1140.1L1730.1 1164.5H1706.9Z" fill="#89A54E" stroke="#89A54E" stroke-width="2.6" stroke-linejoin="round"/><path d="M1758.4 1166.6L1770 1191H1746.8Z" fill="#89A54E" stroke="#89A54E" stroke-width="2.6" stroke-linejoin="round"/><path d="M1798.4 1195.4L1810 1219.8H1786.8Z" fill="#89A54E" stroke="#89A54E" stroke-width="2.6" stroke-linejoin="round"/><path d="M1838.3 1231.9L1849.9 1256.3H1826.7Z" fill="#89A54E" stroke="#89A54E" stroke-width="2.6" stroke-linejoin="round"/><path d="M1878.3 1270.6L1889.9 1295H1866.7Z" fill="#89A54E" stroke="#89A54E" stroke-width="2.6" stroke-linejoin="round"/><path d="M1918.2 1301.6L1929.8 1326H1906.6Z" fill="#89A54E" stroke="#89A54E" stroke-width="2.6" stroke-linejoin="round"/><path d="M1958.2 1322.6L1969.8 1347H1946.6Z" fill="#89A54E" stroke="#89A54E" stroke-width="2.6" stroke-linejoin="round"/><path d="M1998.1 1333.6L2009.7 1358H1986.5Z" fill="#89A54E" stroke="#89A54E" stroke-width="2.6" stroke-linejoin="round"/><path d="M2038 1335.9L2049.6 1360.3H2026.4Z" fill="#89A54E" stroke="#89A54E" stroke-width="2.6" stroke-linejoin="round"/><path d="M2078 1335.9L2089.6 1360.3H2066.4Z" fill="#89A54E" stroke="#89A54E" stroke-width="2.6" stroke-linejoin="round"/><path d="M2117.9 1335.9L2129.5 1360.3H2106.3Z" fill="#89A54E" stroke="#89A54E" stroke-width="2.6" stroke-linejoin="round"/><path d="M2157.9 1335.9L2169.5 1360.3H2146.3Z" fill="#89A54E" stroke="#89A54E" stroke-width="2.6" stroke-linejoin="round"/><path d="M2197.8 1335.9L2209.4 1360.3H2186.2Z" fill="#89A54E" stroke="#89A54E" stroke-width="2.6" stroke-linejoin="round"/><path d="M2237.8 1335.9L2249.4 1360.3H2226.2Z" fill="#89A54E" stroke="#89A54E" stroke-width="2.6" stroke-linejoin="round"/><path d="M2277.7 1335.9L2289.3 1360.3H2266.1Z" fill="#89A54E" stroke="#89A54E" stroke-width="2.6" stroke-linejoin="round"/><path d="M2317.6 1335.9L2329.2 1360.3H2306Z" fill="#89A54E" stroke="#89A54E" stroke-width="2.6" stroke-linejoin="round"/>
<polyline points="320.5,1348.1 360.4,1348.1 400.4,1345.8 440.3,1331.5 480.2,1304.9 520.2,1272.8 560.1,1231.9 600.1,1179.9 640,1113.5 680,1047.2 719.9,981.9 759.8,914.4 799.8,849.1 839.7,783.9 879.7,783.9 919.6,772.8 959.6,767.3 999.5,767.3 1039.5,767.3 1079.4,767.3 1119.3,764 1159.3,747.4 1199.2,728.6 1239.2,708.6 1279.1,678.8 1319.1,650 1359,631.2 1398.9,619 1438.9,612.4 1478.8,608 1518.8,608 1558.7,595.8 1598.7,588.1 1638.6,580.3 1678.5,573.7" fill="none" stroke="#C00000" stroke-width="7.7" stroke-linejoin="round" stroke-linecap="round"/>
<rect x="308.6" y="1336.2" width="23.8" height="23.8" rx="0.8" fill="#C0504D" stroke="#C0504D" stroke-width="2.2" stroke-linejoin="round"/><path d="M308.3 1348.1H332.7M320.5 1335.9V1360.3" stroke="#C00000" stroke-width="3.6" fill="none"/><rect x="348.5" y="1336.2" width="23.8" height="23.8" rx="0.8" fill="#C0504D" stroke="#C0504D" stroke-width="2.2" stroke-linejoin="round"/><path d="M348.2 1348.1H372.6M360.4 1335.9V1360.3" stroke="#C00000" stroke-width="3.6" fill="none"/><rect x="388.5" y="1333.9" width="23.8" height="23.8" rx="0.8" fill="#C0504D" stroke="#C0504D" stroke-width="2.2" stroke-linejoin="round"/><path d="M388.2 1345.8H412.6M400.4 1333.6V1358" stroke="#C00000" stroke-width="3.6" fill="none"/><rect x="428.4" y="1319.6" width="23.8" height="23.8" rx="0.8" fill="#C0504D" stroke="#C0504D" stroke-width="2.2" stroke-linejoin="round"/><path d="M428.1 1331.5H452.5M440.3 1319.3V1343.7" stroke="#C00000" stroke-width="3.6" fill="none"/><rect x="468.3" y="1293" width="23.8" height="23.8" rx="0.8" fill="#C0504D" stroke="#C0504D" stroke-width="2.2" stroke-linejoin="round"/><path d="M468 1304.9H492.4M480.2 1292.7V1317.1" stroke="#C00000" stroke-width="3.6" fill="none"/><rect x="508.3" y="1260.9" width="23.8" height="23.8" rx="0.8" fill="#C0504D" stroke="#C0504D" stroke-width="2.2" stroke-linejoin="round"/><path d="M508 1272.8H532.4M520.2 1260.6V1285" stroke="#C00000" stroke-width="3.6" fill="none"/><rect x="548.2" y="1220" width="23.8" height="23.8" rx="0.8" fill="#C0504D" stroke="#C0504D" stroke-width="2.2" stroke-linejoin="round"/><path d="M547.9 1231.9H572.3M560.1 1219.7V1244.1" stroke="#C00000" stroke-width="3.6" fill="none"/><rect x="588.2" y="1168" width="23.8" height="23.8" rx="0.8" fill="#C0504D" stroke="#C0504D" stroke-width="2.2" stroke-linejoin="round"/><path d="M587.9 1179.9H612.3M600.1 1167.7V1192.1" stroke="#C00000" stroke-width="3.6" fill="none"/><rect x="628.1" y="1101.6" width="23.8" height="23.8" rx="0.8" fill="#C0504D" stroke="#C0504D" stroke-width="2.2" stroke-linejoin="round"/><path d="M627.8 1113.5H652.2M640 1101.3V1125.7" stroke="#C00000" stroke-width="3.6" fill="none"/><rect x="668.1" y="1035.3" width="23.8" height="23.8" rx="0.8" fill="#C0504D" stroke="#C0504D" stroke-width="2.2" stroke-linejoin="round"/><path d="M667.8 1047.2H692.2M680 1035V1059.4" stroke="#C00000" stroke-width="3.6" fill="none"/><rect x="708" y="970" width="23.8" height="23.8" rx="0.8" fill="#C0504D" stroke="#C0504D" stroke-width="2.2" stroke-linejoin="round"/><path d="M707.7 981.9H732.1M719.9 969.7V994.1" stroke="#C00000" stroke-width="3.6" fill="none"/><rect x="747.9" y="902.5" width="23.8" height="23.8" rx="0.8" fill="#C0504D" stroke="#C0504D" stroke-width="2.2" stroke-linejoin="round"/><path d="M747.6 914.4H772M759.8 902.2V926.6" stroke="#C00000" stroke-width="3.6" fill="none"/><rect x="787.9" y="837.2" width="23.8" height="23.8" rx="0.8" fill="#C0504D" stroke="#C0504D" stroke-width="2.2" stroke-linejoin="round"/><path d="M787.6 849.1H812M799.8 836.9V861.3" stroke="#C00000" stroke-width="3.6" fill="none"/><rect x="827.8" y="772" width="23.8" height="23.8" rx="0.8" fill="#C0504D" stroke="#C0504D" stroke-width="2.2" stroke-linejoin="round"/><path d="M827.5 783.9H851.9M839.7 771.7V796.1" stroke="#C00000" stroke-width="3.6" fill="none"/><rect x="867.8" y="772" width="23.8" height="23.8" rx="0.8" fill="#C0504D" stroke="#C0504D" stroke-width="2.2" stroke-linejoin="round"/><path d="M867.5 783.9H891.9M879.7 771.7V796.1" stroke="#C00000" stroke-width="3.6" fill="none"/><rect x="907.7" y="760.9" width="23.8" height="23.8" rx="0.8" fill="#C0504D" stroke="#C0504D" stroke-width="2.2" stroke-linejoin="round"/><path d="M907.4 772.8H931.8M919.6 760.6V785" stroke="#C00000" stroke-width="3.6" fill="none"/><rect x="947.7" y="755.4" width="23.8" height="23.8" rx="0.8" fill="#C0504D" stroke="#C0504D" stroke-width="2.2" stroke-linejoin="round"/><path d="M947.4 767.3H971.8M959.6 755.1V779.5" stroke="#C00000" stroke-width="3.6" fill="none"/><rect x="987.6" y="755.4" width="23.8" height="23.8" rx="0.8" fill="#C0504D" stroke="#C0504D" stroke-width="2.2" stroke-linejoin="round"/><path d="M987.3 767.3H1011.7M999.5 755.1V779.5" stroke="#C00000" stroke-width="3.6" fill="none"/><rect x="1027.6" y="755.4" width="23.8" height="23.8" rx="0.8" fill="#C0504D" stroke="#C0504D" stroke-width="2.2" stroke-linejoin="round"/><path d="M1027.3 767.3H1051.7M1039.5 755.1V779.5" stroke="#C00000" stroke-width="3.6" fill="none"/><rect x="1067.5" y="755.4" width="23.8" height="23.8" rx="0.8" fill="#C0504D" stroke="#C0504D" stroke-width="2.2" stroke-linejoin="round"/><path d="M1067.2 767.3H1091.6M1079.4 755.1V779.5" stroke="#C00000" stroke-width="3.6" fill="none"/><rect x="1107.4" y="752.1" width="23.8" height="23.8" rx="0.8" fill="#C0504D" stroke="#C0504D" stroke-width="2.2" stroke-linejoin="round"/><path d="M1107.1 764H1131.5M1119.3 751.8V776.2" stroke="#C00000" stroke-width="3.6" fill="none"/><rect x="1147.4" y="735.5" width="23.8" height="23.8" rx="0.8" fill="#C0504D" stroke="#C0504D" stroke-width="2.2" stroke-linejoin="round"/><path d="M1147.1 747.4H1171.5M1159.3 735.2V759.6" stroke="#C00000" stroke-width="3.6" fill="none"/><rect x="1187.3" y="716.7" width="23.8" height="23.8" rx="0.8" fill="#C0504D" stroke="#C0504D" stroke-width="2.2" stroke-linejoin="round"/><path d="M1187 728.6H1211.4M1199.2 716.4V740.8" stroke="#C00000" stroke-width="3.6" fill="none"/><rect x="1227.3" y="696.7" width="23.8" height="23.8" rx="0.8" fill="#C0504D" stroke="#C0504D" stroke-width="2.2" stroke-linejoin="round"/><path d="M1227 708.6H1251.4M1239.2 696.4V720.8" stroke="#C00000" stroke-width="3.6" fill="none"/><rect x="1267.2" y="666.9" width="23.8" height="23.8" rx="0.8" fill="#C0504D" stroke="#C0504D" stroke-width="2.2" stroke-linejoin="round"/><path d="M1266.9 678.8H1291.3M1279.1 666.6V691" stroke="#C00000" stroke-width="3.6" fill="none"/><rect x="1307.2" y="638.1" width="23.8" height="23.8" rx="0.8" fill="#C0504D" stroke="#C0504D" stroke-width="2.2" stroke-linejoin="round"/><path d="M1306.9 650H1331.3M1319.1 637.8V662.2" stroke="#C00000" stroke-width="3.6" fill="none"/><rect x="1347.1" y="619.3" width="23.8" height="23.8" rx="0.8" fill="#C0504D" stroke="#C0504D" stroke-width="2.2" stroke-linejoin="round"/><path d="M1346.8 631.2H1371.2M1359 619V643.4" stroke="#C00000" stroke-width="3.6" fill="none"/><rect x="1387" y="607.1" width="23.8" height="23.8" rx="0.8" fill="#C0504D" stroke="#C0504D" stroke-width="2.2" stroke-linejoin="round"/><path d="M1386.7 619H1411.1M1398.9 606.8V631.2" stroke="#C00000" stroke-width="3.6" fill="none"/><rect x="1427" y="600.5" width="23.8" height="23.8" rx="0.8" fill="#C0504D" stroke="#C0504D" stroke-width="2.2" stroke-linejoin="round"/><path d="M1426.7 612.4H1451.1M1438.9 600.2V624.6" stroke="#C00000" stroke-width="3.6" fill="none"/><rect x="1466.9" y="596.1" width="23.8" height="23.8" rx="0.8" fill="#C0504D" stroke="#C0504D" stroke-width="2.2" stroke-linejoin="round"/><path d="M1466.6 608H1491M1478.8 595.8V620.2" stroke="#C00000" stroke-width="3.6" fill="none"/><rect x="1506.9" y="596.1" width="23.8" height="23.8" rx="0.8" fill="#C0504D" stroke="#C0504D" stroke-width="2.2" stroke-linejoin="round"/><path d="M1506.6 608H1531M1518.8 595.8V620.2" stroke="#C00000" stroke-width="3.6" fill="none"/><rect x="1546.8" y="583.9" width="23.8" height="23.8" rx="0.8" fill="#C0504D" stroke="#C0504D" stroke-width="2.2" stroke-linejoin="round"/><path d="M1546.5 595.8H1570.9M1558.7 583.6V608" stroke="#C00000" stroke-width="3.6" fill="none"/><rect x="1586.8" y="576.2" width="23.8" height="23.8" rx="0.8" fill="#C0504D" stroke="#C0504D" stroke-width="2.2" stroke-linejoin="round"/><path d="M1586.5 588.1H1610.9M1598.7 575.9V600.3" stroke="#C00000" stroke-width="3.6" fill="none"/><rect x="1626.7" y="568.4" width="23.8" height="23.8" rx="0.8" fill="#C0504D" stroke="#C0504D" stroke-width="2.2" stroke-linejoin="round"/><path d="M1626.4 580.3H1650.8M1638.6 568.1V592.5" stroke="#C00000" stroke-width="3.6" fill="none"/><rect x="1666.6" y="561.8" width="23.8" height="23.8" rx="0.8" fill="#C0504D" stroke="#C0504D" stroke-width="2.2" stroke-linejoin="round"/><path d="M1666.3 573.7H1690.7M1678.5 561.5V585.9" stroke="#C00000" stroke-width="3.6" fill="none"/>
<g font-family="'Liberation Sans', sans-serif" font-size="29.6" fill="#000" stroke="#000" stroke-width="0.45"><text x="272.8" y="1435.2" text-anchor="end" textLength="53.6" lengthAdjust="spacingAndGlyphs">0,95</text><text x="2445.9" y="1435.2" textLength="53.6" lengthAdjust="spacingAndGlyphs">0,95</text><text x="272.8" y="1380.1" text-anchor="end" textLength="53.6" lengthAdjust="spacingAndGlyphs">1,00</text><text x="2445.9" y="1380.1" textLength="53.6" lengthAdjust="spacingAndGlyphs">1,00</text><text x="272.8" y="1325" text-anchor="end" textLength="53.6" lengthAdjust="spacingAndGlyphs">1,05</text><text x="2445.9" y="1325" textLength="53.6" lengthAdjust="spacingAndGlyphs">1,05</text><text x="272.8" y="1270" text-anchor="end" textLength="53.6" lengthAdjust="spacingAndGlyphs">1,10</text><text x="2445.9" y="1270" textLength="53.6" lengthAdjust="spacingAndGlyphs">1,10</text><text x="272.8" y="1213.9" text-anchor="end" textLength="53.6" lengthAdjust="spacingAndGlyphs">1,15</text><text x="2445.9" y="1213.9" textLength="53.6" lengthAdjust="spacingAndGlyphs">1,15</text><text x="272.8" y="1158.8" text-anchor="end" textLength="53.6" lengthAdjust="spacingAndGlyphs">1,20</text><text x="2445.9" y="1158.8" textLength="53.6" lengthAdjust="spacingAndGlyphs">1,20</text><text x="272.8" y="1103.7" text-anchor="end" textLength="53.6" lengthAdjust="spacingAndGlyphs">1,25</text><text x="2445.9" y="1103.7" textLength="53.6" lengthAdjust="spacingAndGlyphs">1,25</text><text x="272.8" y="1047.6" text-anchor="end" textLength="53.6" lengthAdjust="spacingAndGlyphs">1,30</text><text x="2445.9" y="1047.6" textLength="53.6" lengthAdjust="spacingAndGlyphs">1,30</text><text x="272.8" y="992.6" text-anchor="end" textLength="53.6" lengthAdjust="spacingAndGlyphs">1,35</text><text x="2445.9" y="992.6" textLength="53.6" lengthAdjust="spacingAndGlyphs">1,35</text><text x="272.8" y="937.5" text-anchor="end" textLength="53.6" lengthAdjust="spacingAndGlyphs">1,40</text><text x="2445.9" y="937.5" textLength="53.6" lengthAdjust="spacingAndGlyphs">1,40</text><text x="272.8" y="881.4" text-anchor="end" textLength="53.6" lengthAdjust="spacingAndGlyphs">1,45</text><text x="2445.9" y="881.4" textLength="53.6" lengthAdjust="spacingAndGlyphs">1,45</text><text x="272.8" y="826.3" text-anchor="end" textLength="53.6" lengthAdjust="spacingAndGlyphs">1,50</text><text x="2445.9" y="826.3" textLength="53.6" lengthAdjust="spacingAndGlyphs">1,50</text><text x="272.8" y="771.2" text-anchor="end" textLength="53.6" lengthAdjust="spacingAndGlyphs">1,55</text><text x="2445.9" y="771.2" textLength="53.6" lengthAdjust="spacingAndGlyphs">1,55</text><text x="272.8" y="715.2" text-anchor="end" textLength="53.6" lengthAdjust="spacingAndGlyphs">1,60</text><text x="2445.9" y="715.2" textLength="53.6" lengthAdjust="spacingAndGlyphs">1,60</text><text x="272.8" y="660.1" text-anchor="end" textLength="53.6" lengthAdjust="spacingAndGlyphs">1,65</text><text x="2445.9" y="660.1" textLength="53.6" lengthAdjust="spacingAndGlyphs">1,65</text><text x="272.8" y="605" text-anchor="end" textLength="53.6" lengthAdjust="spacingAndGlyphs">1,70</text><text x="2445.9" y="605" textLength="53.6" lengthAdjust="spacingAndGlyphs">1,70</text><text x="272.8" y="548.9" text-anchor="end" textLength="53.6" lengthAdjust="spacingAndGlyphs">1,75</text><text x="2445.9" y="548.9" textLength="53.6" lengthAdjust="spacingAndGlyphs">1,75</text><text transform="translate(328.2 1459.3) rotate(-45)" text-anchor="end" font-size="26.5" textLength="13.2" lengthAdjust="spacingAndGlyphs">1</text><text transform="translate(368.1 1459.3) rotate(-45)" text-anchor="end" font-size="26.5" textLength="13.2" lengthAdjust="spacingAndGlyphs">2</text><text transform="translate(408.1 1459.3) rotate(-45)" text-anchor="end" font-size="26.5" textLength="13.2" lengthAdjust="spacingAndGlyphs">3</text><text transform="translate(448 1459.3) rotate(-45)" text-anchor="end" font-size="26.5" textLength="13.2" lengthAdjust="spacingAndGlyphs">4</text><text transform="translate(487.9 1459.3) rotate(-45)" text-anchor="end" font-size="26.5" textLength="13.2" lengthAdjust="spacingAndGlyphs">5</text><text transform="translate(527.9 1459.3) rotate(-45)" text-anchor="end" font-size="26.5" textLength="13.2" lengthAdjust="spacingAndGlyphs">6</text><text transform="translate(567.8 1459.3) rotate(-45)" text-anchor="end" font-size="26.5" textLength="13.2" lengthAdjust="spacingAndGlyphs">7</text><text transform="translate(607.8 1459.3) rotate(-45)" text-anchor="end" font-size="26.5" textLength="13.2" lengthAdjust="spacingAndGlyphs">8</text><text transform="translate(647.7 1459.3) rotate(-45)" text-anchor="end" font-size="26.5" textLength="13.2" lengthAdjust="spacingAndGlyphs">9</text><text transform="translate(687.7 1459.3) rotate(-45)" text-anchor="end" font-size="26.5" textLength="26.2" lengthAdjust="spacingAndGlyphs">10</text><text transform="translate(727.6 1459.3) rotate(-45)" text-anchor="end" font-size="26.5" textLength="26.2" lengthAdjust="spacingAndGlyphs">11</text><text transform="translate(767.5 1459.3) rotate(-45)" text-anchor="end" font-size="26.5" textLength="26.2" lengthAdjust="spacingAndGlyphs">12</text><text transform="translate(807.5 1459.3) rotate(-45)" text-anchor="end" font-size="26.5" textLength="26.2" lengthAdjust="spacingAndGlyphs">13</text><text transform="translate(847.4 1459.3) rotate(-45)" text-anchor="end" font-size="26.5" textLength="26.2" lengthAdjust="spacingAndGlyphs">14</text><text transform="translate(887.4 1459.3) rotate(-45)" text-anchor="end" font-size="26.5" textLength="26.2" lengthAdjust="spacingAndGlyphs">15</text><text transform="translate(927.3 1459.3) rotate(-45)" text-anchor="end" font-size="26.5" textLength="26.2" lengthAdjust="spacingAndGlyphs">16</text><text transform="translate(967.3 1459.3) rotate(-45)" text-anchor="end" font-size="26.5" textLength="26.2" lengthAdjust="spacingAndGlyphs">17</text><text transform="translate(1007.2 1459.3) rotate(-45)" text-anchor="end" font-size="26.5" textLength="26.2" lengthAdjust="spacingAndGlyphs">18</text><text transform="translate(1047.2 1459.3) rotate(-45)" text-anchor="end" font-size="26.5" textLength="26.2" lengthAdjust="spacingAndGlyphs">19</text><text transform="translate(1087.1 1459.3) rotate(-45)" text-anchor="end" font-size="26.5" textLength="26.2" lengthAdjust="spacingAndGlyphs">20</text><text transform="translate(1127 1459.3) rotate(-45)" text-anchor="end" font-size="26.5" textLength="26.2" lengthAdjust="spacingAndGlyphs">21</text><text transform="translate(1167 1459.3) rotate(-45)" text-anchor="end" font-size="26.5" textLength="26.2" lengthAdjust="spacingAndGlyphs">22</text><text transform="translate(1206.9 1459.3) rotate(-45)" text-anchor="end" font-size="26.5" textLength="26.2" lengthAdjust="spacingAndGlyphs">23</text><text transform="translate(1246.9 1459.3) rotate(-45)" text-anchor="end" font-size="26.5" textLength="26.2" lengthAdjust="spacingAndGlyphs">24</text><text transform="translate(1286.8 1459.3) rotate(-45)" text-anchor="end" font-size="26.5" textLength="26.2" lengthAdjust="spacingAndGlyphs">25</text><text transform="translate(1326.8 1459.3) rotate(-45)" text-anchor="end" font-size="26.5" textLength="26.2" lengthAdjust="spacingAndGlyphs">26</text><text transform="translate(1366.7 1459.3) rotate(-45)" text-anchor="end" font-size="26.5" textLength="26.2" lengthAdjust="spacingAndGlyphs">27</text><text transform="translate(1406.6 1459.3) rotate(-45)" text-anchor="end" font-size="26.5" textLength="26.2" lengthAdjust="spacingAndGlyphs">28</text><text transform="translate(1446.6 1459.3) rotate(-45)" text-anchor="end" font-size="26.5" textLength="26.2" lengthAdjust="spacingAndGlyphs">29</text><text transform="translate(1486.5 1459.3) rotate(-45)" text-anchor="end" font-size="26.5" textLength="26.2" lengthAdjust="spacingAndGlyphs">30</text><text transform="translate(1526.5 1459.3) rotate(-45)" text-anchor="end" font-size="26.5" textLength="26.2" lengthAdjust="spacingAndGlyphs">31</text><text transform="translate(1566.4 1459.3) rotate(-45)" text-anchor="end" font-size="26.5" textLength="26.2" lengthAdjust="spacingAndGlyphs">32</text><text transform="translate(1606.4 1459.3) rotate(-45)" text-anchor="end" font-size="26.5" textLength="26.2" lengthAdjust="spacingAndGlyphs">33</text><text transform="translate(1646.3 1459.3) rotate(-45)" text-anchor="end" font-size="26.5" textLength="26.2" lengthAdjust="spacingAndGlyphs">34</text><text transform="translate(1686.2 1459.3) rotate(-45)" text-anchor="end" font-size="26.5" textLength="26.2" lengthAdjust="spacingAndGlyphs">35</text><text transform="translate(1726.2 1459.3) rotate(-45)" text-anchor="end" font-size="26.5" textLength="26.2" lengthAdjust="spacingAndGlyphs">36</text><text transform="translate(1766.1 1459.3) rotate(-45)" text-anchor="end" font-size="26.5" textLength="26.2" lengthAdjust="spacingAndGlyphs">37</text><text transform="translate(1806.1 1459.3) rotate(-45)" text-anchor="end" font-size="26.5" textLength="26.2" lengthAdjust="spacingAndGlyphs">38</text><text transform="translate(1846 1459.3) rotate(-45)" text-anchor="end" font-size="26.5" textLength="26.2" lengthAdjust="spacingAndGlyphs">39</text><text transform="translate(1886 1459.3) rotate(-45)" text-anchor="end" font-size="26.5" textLength="26.2" lengthAdjust="spacingAndGlyphs">40</text><text transform="translate(1925.9 1459.3) rotate(-45)" text-anchor="end" font-size="26.5" textLength="26.2" lengthAdjust="spacingAndGlyphs">41</text><text transform="translate(1965.9 1459.3) rotate(-45)" text-anchor="end" font-size="26.5" textLength="26.2" lengthAdjust="spacingAndGlyphs">42</text><text transform="translate(2005.8 1459.3) rotate(-45)" text-anchor="end" font-size="26.5" textLength="26.2" lengthAdjust="spacingAndGlyphs">43</text><text transform="translate(2045.7 1459.3) rotate(-45)" text-anchor="end" font-size="26.5" textLength="26.2" lengthAdjust="spacingAndGlyphs">44</text><text transform="translate(2085.7 1459.3) rotate(-45)" text-anchor="end" font-size="26.5" textLength="26.2" lengthAdjust="spacingAndGlyphs">45</text><text transform="translate(2125.6 1459.3) rotate(-45)" text-anchor="end" font-size="26.5" textLength="26.2" lengthAdjust="spacingAndGlyphs">46</text><text transform="translate(2165.6 1459.3) rotate(-45)" text-anchor="end" font-size="26.5" textLength="26.2" lengthAdjust="spacingAndGlyphs">47</text><text transform="translate(2205.5 1459.3) rotate(-45)" text-anchor="end" font-size="26.5" textLength="26.2" lengthAdjust="spacingAndGlyphs">48</text><text transform="translate(2245.5 1459.3) rotate(-45)" text-anchor="end" font-size="26.5" textLength="26.2" lengthAdjust="spacingAndGlyphs">49</text><text transform="translate(2285.4 1459.3) rotate(-45)" text-anchor="end" font-size="26.5" textLength="26.2" lengthAdjust="spacingAndGlyphs">50</text><text transform="translate(2325.3 1459.3) rotate(-45)" text-anchor="end" font-size="26.5" textLength="26.2" lengthAdjust="spacingAndGlyphs">51</text><text transform="translate(2365.3 1459.3) rotate(-45)" text-anchor="end" font-size="26.5" textLength="26.2" lengthAdjust="spacingAndGlyphs">52</text><text transform="translate(2405.2 1459.3) rotate(-45)" text-anchor="end" font-size="26.5" textLength="26.2" lengthAdjust="spacingAndGlyphs">53</text></g>
<text transform="translate(189.4 1110) rotate(-90)" font-family="'Liberation Sans', sans-serif" font-weight="bold" stroke="#000" stroke-width="0.7" font-size="35" textLength="283.5" lengthAdjust="spacingAndGlyphs">Precio (€/kg vivo)</text>
<g font-family="'Liberation Sans', sans-serif" font-weight="bold" font-size="31" fill="#000"><path d="M499.2 1518.8H562.5" stroke="#4198AF" stroke-width="8" stroke-linecap="round"/><path d="M530.5 1509.3V1528.3M521.4 1509.7L539.6 1527.9M539.6 1509.7L521.4 1527.9" stroke="#4198AF" stroke-width="2.4" fill="none"/><text x="569.1999999999999" y="1527.6" textLength="247.8" lengthAdjust="spacingAndGlyphs" stroke="#000" stroke-width="0.5">Cerdo Lérida 2019</text><path d="M981.9 1518.8H1046.1" stroke="#DB843D" stroke-width="8" stroke-linecap="round"/><circle cx="1013.8" cy="1518.8" r="9.4" fill="#DB843D"/><text x="1053.2" y="1527.6" textLength="247.8" lengthAdjust="spacingAndGlyphs" stroke="#000" stroke-width="0.5">Cerdo Lérida 2020</text><path d="M1468 1518.8H1531.9" stroke="#89A54E" stroke-width="8" stroke-linecap="round"/><path d="M1499.4 1510L1508.2 1527.6H1490.6Z" fill="#89A54E" stroke="#89A54E" stroke-width="2.6" stroke-linejoin="round"/><text x="1537.9" y="1527.6" textLength="247.8" lengthAdjust="spacingAndGlyphs" stroke="#000" stroke-width="0.5">Cerdo Lérida 2021</text><path d="M1950 1518.8H2013.9" stroke="#C00000" stroke-width="8" stroke-linecap="round"/><rect x="1973" y="1509.9" width="17.8" height="17.8" rx="0.8" fill="#C0504D" stroke="#C0504D" stroke-width="2.2" stroke-linejoin="round"/><path d="M1973.3 1518.8H1990.5M1981.9 1510.2V1527.4" stroke="#C00000" stroke-width="3.2" fill="none"/><text x="2019.8" y="1527.6" textLength="247.8" lengthAdjust="spacingAndGlyphs" stroke="#000" stroke-width="0.5">Cerdo Lérida 2022</text></g>
</svg>
<div class="title"><span>EVOLUCIÓN SEMANAL PRECIOS CERDO LÉRIDA</span></div>
<div class="disc"><div class="dl">Aunque DSM ha puesto todo el cuidado para garantizar que la información aquí contenida es correcta y está actualizada, DSM no asume ninguna garantía acerca de la exactitud, fiabilidad o integridad de la información. Los datos aquí contenidos son para fines</div><div class="dl">informativos y están destinados solamente para su uso en las empresas. Esta publicación no constituye ni proporciona asesoramiento científico o médico, diagnóstico o tratamiento y se distribuye sin garantía de ningún tipo, ni expresa ni implícitamente En ningún</div><div class="dl">caso DSM será responsable de los daños derivados de la confianza del lector sobre, o el uso de estos datos. El lector será el único responsable de cualquier interpretación o el uso del material contenido en este documento El contenido de este documento está</div><div class="dl">sujeto a cambios sin previo aviso. Póngase en contacto con su representante local de DSM para más detalles. Todas las marcas comerciales mencionadas en este folleto son marcas comerciales registradas o marcas comerciales de DSM en los Países Bajos y/u</div><div class="dl last">otros países.</div></div>
<div class="foot"><span style="left:1817.7px;transform:scaleX(0.8506)">NUTRITION</span><i style="left:1967.5px"></i><span style="left:1984.3px;transform:scaleX(0.7951)">HEALTH</span><i style="left:2091.6px"></i><span style="left:2110.6px;transform:scaleX(0.8406)">SUSTAINABLE LIVING</span></div>
</body>
</html>
